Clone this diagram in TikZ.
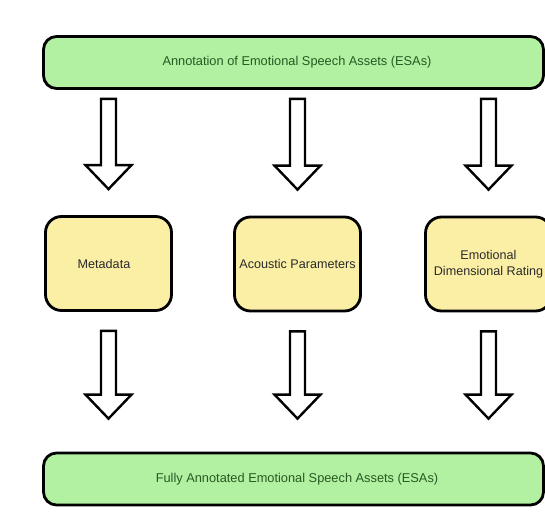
\documentclass[tikz,border=0pt]{standalone}
\usepackage{fontspec}
\setmainfont{Liberation Sans}
\usetikzlibrary{calc}

\definecolor{barfill}{HTML}{B2F0A2}
\definecolor{boxfill}{HTML}{FBEFA6}
\definecolor{bartext}{HTML}{285A22}
\definecolor{boxtext}{HTML}{2A2A2A}

\tikzset{
  bar/.style={draw=black, line width=2.8pt, rounded corners=13pt, fill=barfill,
    minimum width=500pt, minimum height=52pt, inner sep=0pt,
    text=bartext, font=\fontsize{12.8}{15}\selectfont},
  stage/.style={draw=black, line width=2.8pt, rounded corners=16pt, fill=boxfill,
    minimum width=126pt, minimum height=94pt, inner sep=0pt, align=center,
    text=boxtext, font=\fontsize{12.6}{15.5}\selectfont},
  arrowline/.style={draw=black, line width=2.4pt, fill=white, line join=miter}
}

% hollow block arrow from #1 down to the tip at #2
\newcommand\hollowarrow[2]{%
  \path[arrowline] let \p1=(#1), \p2=(#2) in
    (\x1-7.5pt,\y1) -- (\x1+7.5pt,\y1) -- (\x1+7.5pt,\y2+24pt)
    -- (\x1+23pt,\y2+24pt) -- (\x1,\y2) -- (\x1-23pt,\y2+24pt)
    -- (\x1-7.5pt,\y2+24pt) -- cycle;}

\begin{document}
\begin{tikzpicture}[x=1pt,y=-1pt]
  \fill[white] (0,0) rectangle (545,513);
  \useasboundingbox (0,0) rectangle (545,513);
  \clip (0,0) rectangle (545,513);

  % input and output bars
  \node[bar] (top) at (293.5,62.5) {\hspace*{7pt}Annotation of Emotional Speech Assets (ESAs)};
  \node[bar] (bot) at (293.5,479) {\hspace*{7pt}Fully Annotated Emotional Speech Assets (ESAs)};

  % annotation stages
  \node[stage] (meta) at (108.5,263.5) {Metadata\hspace*{9pt}};
  \node[stage] (acou) at (297.5,264) {Acoustic Parameters};
  \node[stage] (emo)  at (488.5,264) {Emotional\\Dimensional Rating};

  % arrow end points
  \path (meta.north |- top.south) ++(0,9) coordinate (a1s);
  \path (acou.north |- top.south) ++(0,9) coordinate (a2s);
  \path (emo.north  |- top.south) ++(0,9) coordinate (a3s);
  \path (meta.north) ++(0,-26) coordinate (a1e);
  \path (acou.north) ++(0,-26) coordinate (a2e);
  \path (emo.north)  ++(0,-26) coordinate (a3e);

  \path (meta.south) ++(0,19) coordinate (b1s);
  \path (acou.south) ++(0,19) coordinate (b2s);
  \path (emo.south)  ++(0,19) coordinate (b3s);
  \path (meta.south |- bot.north) ++(0,-33) coordinate (b1e);
  \path (acou.south |- bot.north) ++(0,-33) coordinate (b2e);
  \path (emo.south  |- bot.north) ++(0,-33) coordinate (b3e);

  \hollowarrow{a1s}{a1e}
  \hollowarrow{a2s}{a2e}
  \hollowarrow{a3s}{a3e}
  \hollowarrow{b1s}{b1e}
  \hollowarrow{b2s}{b2e}
  \hollowarrow{b3s}{b3e}
\end{tikzpicture}
\end{document}
